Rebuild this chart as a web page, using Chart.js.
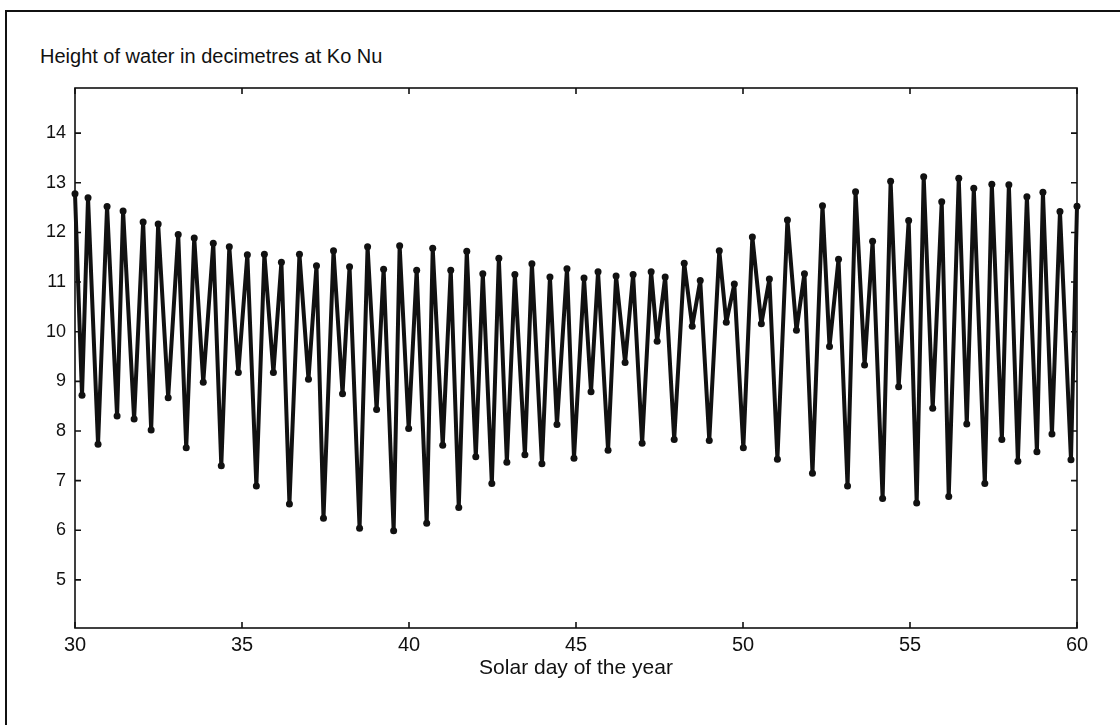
<!DOCTYPE html>
<html>
<head>
<meta charset="utf-8">
<title>Height of water at Ko Nu</title>
<script src="https://cdn.jsdelivr.net/npm/chart.js@4.4.1/dist/chart.umd.min.js"></script>
<style>
  html, body { margin: 0; padding: 0; background: #fff; }
  body { width: 1120px; height: 725px; position: relative; overflow: hidden; font-family: "Liberation Sans", Arial, sans-serif; }
  #marco { position: absolute; left: 5px; top: 10px; width: 1200px; height: 800px; border-left: 2px solid #111; border-top: 2px solid #111; }
  #titulo { position: absolute; left: 40px; top: 45px; font-size: 20px; color: #111; white-space: nowrap; }
  #contenedor { position: absolute; left: 0; top: 0; width: 1120px; height: 725px; }
</style>
</head>
<body>
<div id="marco"></div>
<div id="titulo">Height of water in decimetres at Ko Nu</div>
<div id="contenedor"><canvas id="grafico"></canvas></div>

<script>
const dias = [
  30.00, 30.21, 30.39, 30.69, 30.96, 31.26, 31.44, 31.77, 32.04, 32.28,
  32.49, 32.79, 33.09, 33.33, 33.57, 33.84, 34.14, 34.38, 34.62, 34.89,
  35.16, 35.43, 35.67, 35.94, 36.18, 36.42, 36.72, 36.99, 37.23, 37.44,
  37.74, 38.01, 38.22, 38.52, 38.76, 39.03, 39.24, 39.54, 39.72, 39.99,
  40.23, 40.53, 40.71, 41.01, 41.25, 41.49, 41.73, 42.00, 42.21, 42.48,
  42.69, 42.93, 43.17, 43.47, 43.68, 43.98, 44.22, 44.43, 44.73, 44.94,
  45.24, 45.45, 45.66, 45.96, 46.20, 46.47, 46.71, 46.98, 47.25, 47.43,
  47.67, 47.94, 48.24, 48.48, 48.72, 48.99, 49.29, 49.50, 49.74, 50.01,
  50.28, 50.55, 50.79, 51.03, 51.33, 51.60, 51.84, 52.08, 52.38, 52.59,
  52.86, 53.13, 53.37, 53.64, 53.88, 54.18, 54.42, 54.66, 54.96, 55.20,
  55.41, 55.68, 55.95, 56.16, 56.46, 56.70, 56.91, 57.24, 57.45, 57.75,
  57.96, 58.23, 58.50, 58.80, 58.98, 59.25, 59.49, 59.82, 60.00
];

const alturas = [
  12.78, 8.72, 12.70, 7.73, 12.52, 8.30, 12.43, 8.24, 12.21, 8.02,
  12.17, 8.67, 11.96, 7.66, 11.89, 8.98, 11.78, 7.30, 11.71, 9.18,
  11.55, 6.89, 11.56, 9.18, 11.40, 6.53, 11.56, 9.04, 11.33, 6.24,
  11.63, 8.75, 11.31, 6.04, 11.71, 8.43, 11.26, 5.99, 11.73, 8.05,
  11.24, 6.14, 11.68, 7.71, 11.24, 6.46, 11.62, 7.48, 11.17, 6.94,
  11.48, 7.37, 11.15, 7.52, 11.37, 7.34, 11.10, 8.13, 11.27, 7.45,
  11.08, 8.79, 11.21, 7.61, 11.12, 9.38, 11.15, 7.75, 11.21, 9.81,
  11.10, 7.83, 11.38, 10.11, 11.03, 7.81, 11.63, 10.19, 10.96, 7.66,
  11.91, 10.16, 11.06, 7.43, 12.25, 10.03, 11.17, 7.15, 12.54, 9.70,
  11.46, 6.89, 12.82, 9.33, 11.82, 6.64, 13.03, 8.89, 12.24, 6.55,
  13.12, 8.46, 12.62, 6.68, 13.09, 8.14, 12.89, 6.94, 12.97, 7.83,
  12.96, 7.39, 12.72, 7.58, 12.81, 7.94, 12.42, 7.42, 12.53
];

const ticksX = [30, 35, 40, 45, 50, 55, 60];
const ticksY = [5, 6, 7, 8, 9, 10, 11, 12, 13, 14];

const puntos = dias.map(function(d, i) {
    return { x: d, y: alturas[i] };
});

// Caja del eje con marcas hacia dentro (estilo MATLAB)
const cajaEjes = {
    id: "cajaEjes",
    afterDraw: function(chart) {
        const ctx = chart.ctx;
        const a = chart.chartArea;
        const ex = chart.scales.x;
        const ey = chart.scales.y;
        const largo = 6;
        ctx.save();
        ctx.strokeStyle = "#111";
        ctx.lineWidth = 1.6;
        ctx.strokeRect(a.left, a.top, a.right - a.left, a.bottom - a.top);
        ctx.beginPath();
        ticksX.forEach(function(v) {
            const px = ex.getPixelForValue(v);
            ctx.moveTo(px, a.bottom); ctx.lineTo(px, a.bottom - largo);
            ctx.moveTo(px, a.top); ctx.lineTo(px, a.top + largo);
        });
        ticksY.forEach(function(v) {
            const py = ey.getPixelForValue(v);
            ctx.moveTo(a.left, py); ctx.lineTo(a.left + largo, py);
            ctx.moveTo(a.right, py); ctx.lineTo(a.right - largo, py);
        });
        ctx.stroke();
        ctx.restore();
    }
};

const fuente = "'Liberation Sans', Arial, sans-serif";

new Chart(document.getElementById("grafico"), {
    type: "line",
    data: {
        datasets: [{
            label: "Altura",
            data: puntos,
            borderColor: "#111",
            backgroundColor: "#111",
            borderWidth: 4,
            borderJoinStyle: "round",
            pointRadius: 3.5,
            pointBorderWidth: 0,
            tension: 0,
            clip: 8
        }]
    },
    options: {
        responsive: true,
        maintainAspectRatio: false,
        animation: false,
        layout: { padding: { top: 88, right: 43, bottom: 44, left: 0 } },
        plugins: {
            legend: { display: false },
            tooltip: { enabled: false },
            title: { display: false }
        },
        scales: {
            x: {
                type: "linear",
                min: 30,
                max: 60,
                border: { display: false },
                grid: { display: false, drawTicks: false },
                afterBuildTicks: function(scale) {
                    scale.ticks = ticksX.map(function(v) { return { value: v }; });
                },
                afterFit: function(scale) { scale.height = 53; },
                ticks: {
                    color: "#111",
                    padding: 5,
                    maxRotation: 0,
                    font: { family: fuente, size: 20 }
                },
                title: {
                    display: true,
                    text: "Solar day of the year",
                    color: "#111",
                    padding: { top: 0, bottom: 0 },
                    font: { family: fuente, size: 21 }
                }
            },
            y: {
                min: 4.03,
                max: 14.91,
                border: { display: false },
                grid: { display: false, drawTicks: false },
                afterBuildTicks: function(scale) {
                    scale.ticks = ticksY.map(function(v) { return { value: v }; });
                },
                afterFit: function(scale) { scale.width = 75; },
                ticks: {
                    color: "#111",
                    padding: 9,
                    font: { family: fuente, size: 18 }
                }
            }
        }
    },
    plugins: [cajaEjes]
});
</script>
</body>
</html>
